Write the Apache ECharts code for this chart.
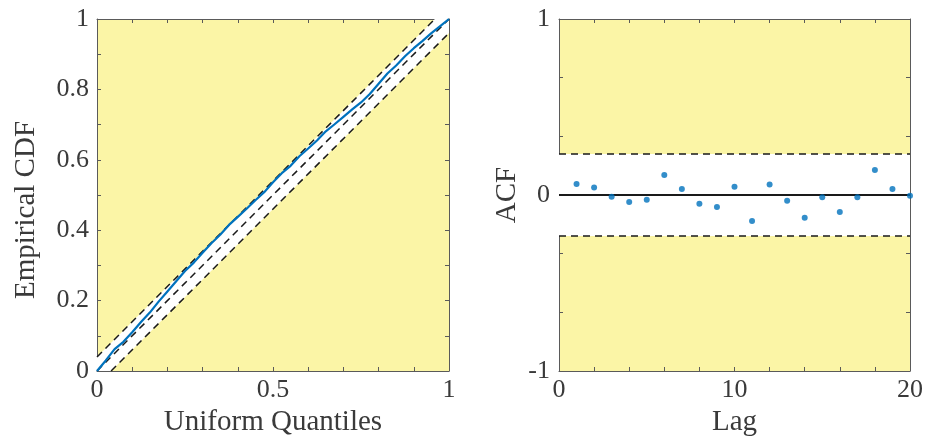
<!DOCTYPE html>
<html>
<head>
<meta charset="utf-8">
<script src="https://cdn.jsdelivr.net/npm/echarts@6/dist/echarts.min.js"></script>
<style>
html,body{margin:0;padding:0;background:#fff;}
#chart{width:926px;height:442px;}
</style>
</head>
<body>
<div id="chart"></div>
<script>
// ---- Data ----
const ecdfX = [0, 0.025, 0.05, 0.075, 0.1, 0.125, 0.15, 0.175, 0.2, 0.225, 0.25, 0.275, 0.3, 0.325, 0.35, 0.375, 0.4, 0.425, 0.45, 0.475, 0.5, 0.525, 0.55, 0.575, 0.6, 0.625, 0.65, 0.675, 0.7, 0.725, 0.75, 0.775, 0.8, 0.825, 0.85, 0.875, 0.9, 0.925, 0.95, 0.975, 1];
const ecdfY = [0, 0.030, 0.062, 0.083, 0.110, 0.139, 0.166, 0.197, 0.226, 0.255, 0.284, 0.308, 0.336, 0.363, 0.387, 0.415, 0.438, 0.461, 0.485, 0.508, 0.536, 0.562, 0.583, 0.610, 0.632, 0.655, 0.681, 0.701, 0.722, 0.743, 0.763, 0.787, 0.816, 0.845, 0.868, 0.894, 0.917, 0.938, 0.960, 0.980, 1];
const ksBound = 0.04;

const acfLags = [1, 2, 3, 4, 5, 6, 7, 8, 9, 10, 11, 12, 13, 14, 15, 16, 17, 18, 19, 20];
const acfValues = [0.062, 0.043, -0.010, -0.040, -0.027, 0.114, 0.034, -0.050, -0.068, 0.047, -0.148, 0.059, -0.032, -0.129, -0.013, -0.097, -0.013, 0.142, 0.034, -0.004];
const acfBound = 0.233;

const leftXTickLabels = ['0', '0.5', '1'];
const leftYTickLabels = ['0', '0.2', '0.4', '0.6', '0.8', '1'];
const rightXTickLabels = ['0', '10', '20'];
const rightYTickLabels = ['-1', '0', '1'];

// ---- Styles ----
const FONT = '"Liberation Serif", "DejaVu Serif", serif';
const TXT = '#3a3a3a';
const AX = '#5a5a5a';
const BG = '#fbf5a6';
const BLUE = '#0072BD';
const TICK_FS = 26;
const NAME_FS = 29;

function fmt(v) {
  const r = Math.round(v * 1000) / 1000;
  return String(r);
}
function pickLabel(list) {
  return function (v) {
    const s = fmt(v);
    return list.indexOf(s) >= 0 ? s : '';
  };
}

function axisBase(extra) {
  return Object.assign({
    type: 'value',
    axisLine: { show: true, onZero: false, lineStyle: { color: AX, width: 1 } },
    axisTick: { show: true, inside: true, length: 4, lineStyle: { color: AX, width: 1 } },
    splitLine: { show: false },
    axisLabel: { color: TXT, fontFamily: FONT, fontSize: TICK_FS },
    nameTextStyle: { color: TXT, fontFamily: FONT, fontSize: NAME_FS }
  }, extra);
}

const chart = echarts.init(document.getElementById('chart'), null, { renderer: 'canvas' });

const option = {
  animation: false,
  backgroundColor: '#ffffff',
  grid: [
    { left: 97, top: 19, width: 352, height: 352, show: true, backgroundColor: BG, borderWidth: 0 },
    { left: 559, top: 19, width: 352, height: 352, show: true, backgroundColor: BG, borderWidth: 0 }
  ],
  xAxis: [
    axisBase({ gridIndex: 0, min: 0, max: 1, interval: 0.1, position: 'bottom',
      axisLabel: { color: TXT, fontFamily: FONT, fontSize: TICK_FS, margin: 6, formatter: pickLabel(leftXTickLabels), showMinLabel: true, showMaxLabel: true },
      name: 'Uniform Quantiles', nameLocation: 'middle', nameGap: 37 }),
    axisBase({ gridIndex: 0, min: 0, max: 1, interval: 0.1, position: 'top', axisLabel: { show: false } }),
    axisBase({ gridIndex: 1, min: 0, max: 20, interval: 2, position: 'bottom',
      axisLabel: { color: TXT, fontFamily: FONT, fontSize: TICK_FS, margin: 6, formatter: pickLabel(rightXTickLabels), showMinLabel: true, showMaxLabel: true },
      name: 'Lag', nameLocation: 'middle', nameGap: 37 }),
    axisBase({ gridIndex: 1, min: 0, max: 20, interval: 2, position: 'top', axisLabel: { show: false } })
  ],
  yAxis: [
    axisBase({ gridIndex: 0, min: 0, max: 1, interval: 0.1, position: 'left',
      axisLabel: { color: TXT, fontFamily: FONT, fontSize: TICK_FS, margin: 8, formatter: pickLabel(leftYTickLabels), showMinLabel: true, showMaxLabel: true },
      name: 'Empirical CDF', nameLocation: 'middle', nameGap: 56,
      nameTextStyle: { color: TXT, fontFamily: FONT, fontSize: NAME_FS, padding: [0, 30, 0, 0] } }),
    axisBase({ gridIndex: 0, min: 0, max: 1, interval: 0.1, position: 'right', axisLabel: { show: false } }),
    axisBase({ gridIndex: 1, min: -1, max: 1, interval: 1 / 3, position: 'left',
      axisLabel: { color: TXT, fontFamily: FONT, fontSize: TICK_FS, margin: 9, formatter: function (v) {
        const k = Math.round(v * 3);
        if (k === -3) return rightYTickLabels[0];
        if (k === 0) return rightYTickLabels[1];
        if (k === 3) return rightYTickLabels[2];
        return '';
      }, showMinLabel: true, showMaxLabel: true },
      name: 'ACF', nameLocation: 'middle', nameGap: 37 }),
    axisBase({ gridIndex: 1, min: -1, max: 1, interval: 1 / 3, position: 'right', axisLabel: { show: false } })
  ],
  series: [
    // KS confidence band (white)
    {
      type: 'custom', xAxisIndex: 0, yAxisIndex: 0, z: 1, silent: true,
      data: [[0]],
      renderItem: function (params, api) {
        const pts = [[0, 0], [0, ksBound], [1 - ksBound, 1], [1, 1], [1, 1 - ksBound], [ksBound, 0]].map(p => api.coord(p));
        return { type: 'polygon', shape: { points: pts }, style: { fill: '#ffffff' } };
      }
    },
    {
      type: 'line', xAxisIndex: 0, yAxisIndex: 0, z: 3, symbol: 'none', silent: true,
      data: [[0, ksBound], [1 - ksBound, 1]],
      lineStyle: { color: '#1a1a1a', width: 1.5, type: [7, 5] }
    },
    {
      type: 'line', xAxisIndex: 0, yAxisIndex: 0, z: 3, symbol: 'none', silent: true,
      data: [[0, 0], [1, 1]],
      lineStyle: { color: '#1a1a1a', width: 1.5, type: [7, 5] }
    },
    {
      type: 'line', xAxisIndex: 0, yAxisIndex: 0, z: 3, symbol: 'none', silent: true,
      data: [[ksBound, 0], [1, 1 - ksBound]],
      lineStyle: { color: '#1a1a1a', width: 1.5, type: [7, 5] }
    },
    {
      type: 'line', xAxisIndex: 0, yAxisIndex: 0, z: 4, symbol: 'none', silent: true,
      data: ecdfX.map((x, i) => [x, ecdfY[i]]),
      lineStyle: { color: BLUE, width: 2.2 }
    },
    // ACF confidence band (white)
    {
      type: 'custom', xAxisIndex: 2, yAxisIndex: 2, z: 1, silent: true,
      data: [[0]],
      renderItem: function (params, api) {
        const a = api.coord([0, acfBound]);
        const b = api.coord([20, -acfBound]);
        return { type: 'rect', shape: { x: a[0], y: a[1], width: b[0] - a[0], height: b[1] - a[1] }, style: { fill: '#ffffff' } };
      }
    },
    {
      type: 'line', xAxisIndex: 2, yAxisIndex: 2, z: 3, symbol: 'none', silent: true,
      data: [[0, acfBound], [20, acfBound]],
      lineStyle: { color: '#1a1a1a', width: 1.5, type: [7, 5] }
    },
    {
      type: 'line', xAxisIndex: 2, yAxisIndex: 2, z: 3, symbol: 'none', silent: true,
      data: [[0, -acfBound], [20, -acfBound]],
      lineStyle: { color: '#1a1a1a', width: 1.5, type: [7, 5] }
    },
    {
      type: 'line', xAxisIndex: 2, yAxisIndex: 2, z: 3, symbol: 'none', silent: true,
      data: [[0, 0], [20, 0]],
      lineStyle: { color: '#1a1a1a', width: 2 }
    },
    {
      type: 'scatter', xAxisIndex: 2, yAxisIndex: 2, z: 5, silent: true,
      symbol: 'circle', symbolSize: 6,
      itemStyle: { color: BLUE },
      data: acfLags.map((l, i) => [l, acfValues[i]])
    }
  ]
};
chart.setOption(option);
</script>
</body>
</html>
